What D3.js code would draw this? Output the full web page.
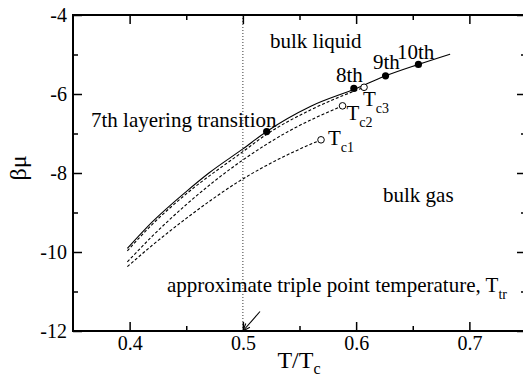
<!DOCTYPE html>
<html>
<head>
<meta charset="utf-8">
<script src="https://cdn.jsdelivr.net/npm/d3@7"></script>
</head>
<body style="margin:0">
<svg id="chart" width="523" height="379" style="font-family: 'Times New Roman'"></svg>
<script>
// Axis ticks
const xMajorTicks = [0.4, 0.5, 0.6, 0.7];
const xMinorTicks = [0.45, 0.55, 0.65];
const yMajorTicks = [-12, -10, -8, -6, -4];
const yMinorTicks = [-11, -9, -7, -5];

// Layering transition line (solid): T/Tc and beta*mu
const solidT  = [0.398, 0.42, 0.45, 0.47, 0.50, 0.521, 0.56, 0.60, 0.626, 0.655, 0.683];
const solidMu = [-9.91, -9.24, -8.47, -8.00, -7.39, -6.95, -6.31, -5.86, -5.54, -5.25, -4.99];

// Lower layering transitions (dashed), ending at their critical points
const tc3T  = [0.398, 0.42, 0.45, 0.50, 0.521, 0.56, 0.607];
const tc3Mu = [-9.97, -9.30, -8.53, -7.46, -7.02, -6.40, -5.83];
const tc2T  = [0.398, 0.42, 0.45, 0.50, 0.54, 0.588];
const tc2Mu = [-10.25, -9.60, -8.80, -7.67, -6.95, -6.30];
const tc1T  = [0.398, 0.42, 0.45, 0.50, 0.535, 0.569];
const tc1Mu = [-10.37, -9.83, -9.15, -8.15, -7.60, -7.16];

// Filled markers on the solid line (7th..10th transitions)
const layerLabels = ["7th layering transition", "8th", "9th", "10th"];
const layerT  = [0.521, 0.598, 0.626, 0.655];
const layerMu = [-6.95, -5.86, -5.54, -5.25];

// Open markers: critical points Tc1..Tc3
const critSubs = ["c1", "c2", "c3"];
const critT  = [0.569, 0.588, 0.607];
const critMu = [-7.16, -6.30, -5.83];

const tripleT = 0.5;

const serifFamily = "Times New Roman";

const svg = d3.select("#chart");
const pLeft = 73, pRight = 526, pTop = 15, pBottom = 331;

const x = d3.scaleLinear().domain([0.35, 0.75]).range([pLeft, pRight]);
const y = d3.scaleLinear().domain([-12, -4]).range([pBottom, pTop]);

// ----- axes (ticks point inward) -----
function styleAxis(g) {
  g.attr("font-family", serifFamily).attr("font-size", 20);
  g.select(".domain").remove();
  g.selectAll("line").attr("stroke", "#000").attr("stroke-width", 1.5);
  g.selectAll("text").attr("fill", "#000").attr("font-family", serifFamily);
}
const hyphen = d => String(d).replace("\u2212", "-");

svg.append("g").attr("transform", `translate(0,${pBottom})`)
  .call(d3.axisBottom(x).tickValues(xMajorTicks).tickSize(-9).tickPadding(5).tickFormat(d3.format(".1f")))
  .call(styleAxis);
svg.append("g").attr("transform", `translate(0,${pBottom})`)
  .call(d3.axisBottom(x).tickValues(xMinorTicks).tickSize(-5).tickFormat(""))
  .call(styleAxis);
svg.append("g").attr("transform", `translate(0,${pTop})`)
  .call(d3.axisTop(x).tickValues(xMajorTicks).tickSize(-9).tickFormat(""))
  .call(styleAxis);
svg.append("g").attr("transform", `translate(0,${pTop})`)
  .call(d3.axisTop(x).tickValues(xMinorTicks).tickSize(-5).tickFormat(""))
  .call(styleAxis);

svg.append("g").attr("transform", `translate(${pLeft},0)`)
  .call(d3.axisLeft(y).tickValues(yMajorTicks).tickSize(-9).tickPadding(6).tickFormat(d => hyphen(d)))
  .call(styleAxis);
svg.append("g").attr("transform", `translate(${pLeft},0)`)
  .call(d3.axisLeft(y).tickValues(yMinorTicks).tickSize(-5).tickFormat(""))
  .call(styleAxis);
svg.append("g").attr("transform", `translate(${pRight},0)`)
  .call(d3.axisRight(y).tickValues(yMajorTicks).tickSize(-9).tickFormat(""))
  .call(styleAxis);
svg.append("g").attr("transform", `translate(${pRight},0)`)
  .call(d3.axisRight(y).tickValues(yMinorTicks).tickSize(-5).tickFormat(""))
  .call(styleAxis);

// frame
svg.append("rect")
  .attr("x", pLeft).attr("y", pTop)
  .attr("width", pRight - pLeft).attr("height", pBottom - pTop)
  .attr("fill", "none").attr("stroke", "#000").attr("stroke-width", 2);

// ----- triple point guide -----
svg.append("line")
  .attr("x1", x(tripleT)).attr("x2", x(tripleT))
  .attr("y1", pTop).attr("y2", pBottom)
  .attr("stroke", "#000").attr("stroke-width", 0.8)
  .attr("stroke-dasharray", "1,2");

// ----- curves -----
const line = d3.line().x(d => x(d[0])).y(d => y(d[1])).curve(d3.curveMonotoneX);
function drawCurve(ts, mus, dash) {
  svg.append("path")
    .datum(ts.map((t, i) => [t, mus[i]]))
    .attr("d", line)
    .attr("fill", "none")
    .attr("stroke", "#000")
    .attr("stroke-width", 1.1)
    .attr("stroke-dasharray", dash);
}
drawCurve(tc1T, tc1Mu, "3,2");
drawCurve(tc2T, tc2Mu, "3,2");
drawCurve(tc3T, tc3Mu, "3,2");
drawCurve(solidT, solidMu, null);

// ----- markers -----
svg.selectAll("circle.crit")
  .data(critT.map((t, i) => [t, critMu[i]]))
  .join("circle").attr("class", "crit")
  .attr("cx", d => x(d[0])).attr("cy", d => y(d[1])).attr("r", 3.3)
  .attr("fill", "#fff").attr("stroke", "#000").attr("stroke-width", 1);

svg.selectAll("circle.layer")
  .data(layerT.map((t, i) => [t, layerMu[i]]))
  .join("circle").attr("class", "layer")
  .attr("cx", d => x(d[0])).attr("cy", d => y(d[1])).attr("r", 3.6)
  .attr("fill", "#000");

// ----- annotations -----
function label(txt, px, py, size) {
  return svg.append("text")
    .attr("x", px).attr("y", py)
    .attr("font-family", serifFamily)
    .attr("font-size", size || 21)
    .text(txt);
}
label("bulk liquid", 270, 48);
label("bulk gas", 383, 202);
label(layerLabels[0], 91, 127);
label(layerLabels[1], 336, 81.5);
label(layerLabels[2], 373, 69);
label(layerLabels[3], 397, 59);

// T with subscript
function tSub(px, py, sub, size, subSize) {
  const t = svg.append("text").attr("x", px).attr("y", py)
    .attr("font-family", serifFamily).attr("font-size", size);
  t.append("tspan").text("T");
  t.append("tspan").attr("font-size", subSize).attr("dy", subSize * 0.5).text(sub);
  return t;
}
tSub(363, 106, critSubs[2], 21, 14);
tSub(346.5, 119.5, critSubs[1], 21, 14);
tSub(328, 145, critSubs[0], 21, 14);

// triple-point note with arrow
const note = svg.append("text").attr("x", 167).attr("y", 291.5)
  .attr("font-family", serifFamily).attr("font-size", 21);
note.append("tspan").text("approximate triple point temperature, T");
note.append("tspan").attr("font-size", 14).attr("dy", 7).text("tr");

const ax1 = 260, ay1 = 311.5, ax2 = x(tripleT), ay2 = pBottom;
svg.append("line")
  .attr("x1", ax1).attr("y1", ay1).attr("x2", ax2).attr("y2", ay2)
  .attr("stroke", "#000").attr("stroke-width", 1.1);
const ang = Math.atan2(ay2 - ay1, ax2 - ax1);
const hl = 8, hw = 0.35;
svg.append("path")
  .attr("d", `M${ax2 - hl * Math.cos(ang - hw)},${ay2 - hl * Math.sin(ang - hw)} L${ax2},${ay2} L${ax2 - hl * Math.cos(ang + hw)},${ay2 - hl * Math.sin(ang + hw)}`)
  .attr("fill", "none").attr("stroke", "#000").attr("stroke-width", 1.1);

// axis titles
const xt = svg.append("text").attr("x", 299).attr("y", 368)
  .attr("font-family", serifFamily).attr("font-size", 24).attr("text-anchor", "middle");
xt.append("tspan").text("T/T");
xt.append("tspan").attr("font-size", 16).attr("dy", 6).text("c");

svg.append("text")
  .attr("transform", "translate(26,168) rotate(-90)")
  .attr("font-family", serifFamily).attr("font-size", 24).attr("text-anchor", "middle")
  .text("βμ");
</script>
</body>
</html>
